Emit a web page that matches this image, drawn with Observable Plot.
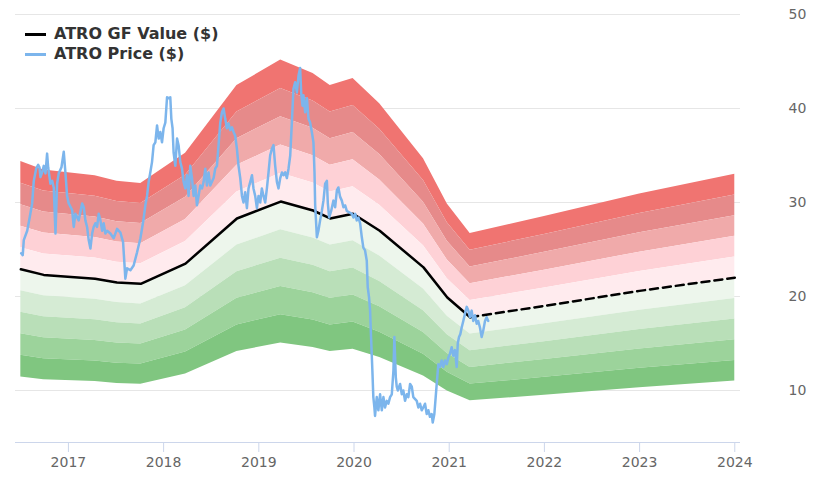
<!DOCTYPE html>
<html>
<head>
<meta charset="utf-8">
<script src="https://cdn.jsdelivr.net/npm/d3@7"></script>
<script src="https://cdn.jsdelivr.net/npm/@observablehq/plot@0.6"></script>
<style>
  html, body { margin: 0; padding: 0; background: #fff; }
  #wrap { position: relative; width: 820px; height: 492px; font-family: "DejaVu Sans", sans-serif; }
  #legend { position: absolute; left: 25px; top: 24px; font-weight: bold; font-size: 16px; color: #333; line-height: 20px; }
  #legend .row { display: flex; align-items: center; height: 20px; }
  #legend .sw { width: 21px; height: 0; border-top: 3px solid; margin-right: 8px; }
</style>
</head>
<body>
<div id="wrap">
  <div id="chart"></div>
  <div id="legend"></div>
</div>
<script>
// ---- data ----
const seriesNames = ["ATRO GF Value ($)", "ATRO Price ($)"];
const seriesColors = ["#000000", "#7cb5ec"];

const gfYears  = [2016.50, 2016.74, 2017.28, 2017.51, 2017.76, 2018.23, 2018.77, 2019.23, 2019.57, 2019.75, 2019.99, 2020.27, 2020.73, 2020.98, 2021.22];
const gfValues = [22.9, 22.3, 21.9, 21.5, 21.35, 23.5, 28.3, 30.1, 29.15, 28.3, 28.8, 27.0, 23.1, 19.9, 17.8];

const projYears  = [2021.22, 2022.0, 2023.0, 2024.0];
const projValues = [17.8, 19.0, 20.6, 22.0];

const bandLow  = [1.4, 1.3, 1.2, 1.1, 1.0, 0.9, 0.8, 0.7, 0.6, 0.5];
const bandHigh = [1.5, 1.4, 1.3, 1.2, 1.1, 1.0, 0.9, 0.8, 0.7, 0.6];
const bandColors = ["#f07471", "#e68a8a", "#f0aaaa", "#fed1d6", "#ffebee",
                    "#edf6ec", "#d5ebd4", "#b9dfb8", "#9cd39b", "#80c680"];

const price = [[2016.504,24.6],[2016.520,24.4],[2016.531,26.0],[2016.567,27.0],[2016.591,28.3],[2016.619,29.9],[2016.636,32.3],[2016.661,33.6],[2016.682,34.0],[2016.696,33.75],[2016.706,32.7],[2016.724,33.2],[2016.741,33.9],[2016.759,33.1],[2016.776,35.2],[2016.787,33.75],[2016.811,32.0],[2016.829,32.3],[2016.846,31.6],[2016.864,26.7],[2016.881,32.0],[2016.898,33.1],[2016.927,33.75],[2016.951,35.4],[2016.969,33.1],[2016.986,30.7],[2017.003,29.9],[2017.039,29.2],[2017.056,27.4],[2017.073,28.8],[2017.108,28.1],[2017.144,29.9],[2017.161,29.5],[2017.178,28.1],[2017.196,27.4],[2017.213,26.0],[2017.231,25.1],[2017.249,26.7],[2017.265,27.4],[2017.283,27.8],[2017.301,27.4],[2017.318,28.8],[2017.336,28.1],[2017.354,27.0],[2017.370,27.8],[2017.388,26.7],[2017.406,27.0],[2017.441,26.7],[2017.475,26.2],[2017.511,27.2],[2017.546,26.8],[2017.574,25.8],[2017.598,21.9],[2017.616,23.0],[2017.651,22.8],[2017.685,23.3],[2017.721,24.7],[2017.756,26.2],[2017.773,27.2],[2017.790,28.3],[2017.808,29.7],[2017.826,30.7],[2017.843,32.2],[2017.860,33.2],[2017.878,34.3],[2017.895,36.1],[2017.913,36.4],[2017.931,38.2],[2017.948,36.8],[2017.965,37.5],[2017.983,36.4],[2018.000,37.9],[2018.018,38.5],[2018.036,41.2],[2018.052,41.1],[2018.070,41.2],[2018.081,38.9],[2018.094,37.9],[2018.105,35.3],[2018.123,33.9],[2018.141,36.8],[2018.157,36.1],[2018.175,34.3],[2018.193,33.6],[2018.210,32.2],[2018.228,31.5],[2018.246,32.9],[2018.262,30.7],[2018.280,33.9],[2018.298,32.6],[2018.315,30.7],[2018.333,31.8],[2018.350,29.7],[2018.367,30.7],[2018.385,31.8],[2018.403,31.5],[2018.420,32.2],[2018.438,33.6],[2018.455,31.8],[2018.472,33.2],[2018.490,31.8],[2018.525,32.6],[2018.542,33.6],[2018.560,33.9],[2018.577,36.1],[2018.595,38.5],[2018.613,39.6],[2018.630,40.0],[2018.647,38.9],[2018.665,37.9],[2018.682,38.4],[2018.700,37.7],[2018.718,38.0],[2018.735,37.5],[2018.752,37.1],[2018.770,35.7],[2018.787,33.9],[2018.805,32.6],[2018.823,30.7],[2018.839,30.0],[2018.857,31.1],[2018.875,29.4],[2018.892,31.5],[2018.910,32.2],[2018.928,32.9],[2018.944,31.5],[2018.962,30.7],[2018.980,29.4],[2018.997,30.7],[2019.015,30.0],[2019.032,31.5],[2019.049,30.7],[2019.067,30.0],[2019.085,31.5],[2019.102,33.2],[2019.119,35.0],[2019.137,35.7],[2019.154,36.1],[2019.172,33.9],[2019.190,32.2],[2019.207,31.5],[2019.225,32.6],[2019.243,33.2],[2019.259,32.9],[2019.277,33.2],[2019.295,32.6],[2019.312,33.6],[2019.330,35.0],[2019.347,38.5],[2019.364,42.1],[2019.382,42.8],[2019.400,41.7],[2019.417,43.5],[2019.434,44.3],[2019.445,41.7],[2019.459,40.3],[2019.469,41.4],[2019.487,39.6],[2019.505,41.1],[2019.522,38.9],[2019.539,38.5],[2019.557,37.5],[2019.574,36.4],[2019.585,33.2],[2019.592,29.7],[2019.610,26.3],[2019.626,27.0],[2019.644,28.1],[2019.662,29.1],[2019.679,30.2],[2019.697,32.0],[2019.715,32.3],[2019.725,29.9],[2019.739,28.4],[2019.760,29.1],[2019.784,30.2],[2019.802,29.5],[2019.820,31.3],[2019.836,31.6],[2019.854,30.6],[2019.872,30.2],[2019.889,29.5],[2019.907,29.7],[2019.924,29.1],[2019.941,29.0],[2019.977,28.8],[2019.994,28.4],[2020.012,28.8],[2020.029,28.1],[2020.046,28.4],[2020.064,27.8],[2020.082,26.3],[2020.098,25.2],[2020.116,24.9],[2020.134,23.8],[2020.144,21.0],[2020.158,19.9],[2020.169,18.5],[2020.179,15.7],[2020.193,12.1],[2020.203,9.3],[2020.214,8.2],[2020.221,7.3],[2020.239,9.3],[2020.256,7.9],[2020.274,9.6],[2020.292,7.9],[2020.309,9.3],[2020.326,8.2],[2020.344,8.9],[2020.361,8.6],[2020.379,9.3],[2020.397,9.6],[2020.414,12.1],[2020.424,15.7],[2020.439,11.4],[2020.449,10.4],[2020.460,10.0],[2020.484,10.7],[2020.502,9.6],[2020.518,10.0],[2020.536,8.9],[2020.554,9.6],[2020.571,9.3],[2020.589,10.7],[2020.607,10.4],[2020.623,9.3],[2020.659,8.9],[2020.676,8.2],[2020.694,8.6],[2020.711,7.9],[2020.728,8.2],[2020.746,8.6],[2020.764,7.5],[2020.781,7.9],[2020.798,7.2],[2020.816,7.5],[2020.827,6.6],[2020.844,7.5],[2020.858,9.3],[2020.872,11.1],[2020.886,12.8],[2020.904,12.5],[2020.921,13.2],[2020.938,12.5],[2020.956,13.2],[2020.974,12.8],[2020.991,13.5],[2021.008,13.9],[2021.026,14.6],[2021.043,13.7],[2021.061,14.3],[2021.079,12.5],[2021.090,15.0],[2021.103,15.7],[2021.117,16.0],[2021.131,16.7],[2021.148,17.4],[2021.166,18.2],[2021.184,18.9],[2021.201,18.5],[2021.218,17.8],[2021.236,18.5],[2021.253,17.4],[2021.271,18.0],[2021.289,17.1],[2021.305,17.4],[2021.323,16.7],[2021.341,15.7],[2021.358,16.4],[2021.376,17.4],[2021.393,17.8],[2021.410,17.4]];

const xTicks = [2017, 2018, 2019, 2020, 2021, 2022, 2023, 2024];
const yTicks = [10, 20, 30, 40, 50];
const xDomain = [2016.444, 2024.06];
const yDomain = [4.47, 50];

// ---- build tables ----
const gf = gfYears.map((t, i) => ({t, v: gfValues[i]}));
const proj = projYears.map((t, i) => ({t, v: projValues[i]}));
const bandData = gf.concat(proj.slice(1));
const priceData = price.map(([t, v]) => ({t, v}));

const bandMarks = bandLow.map((lo, i) =>
  Plot.areaY(bandData, {x: "t", y1: d => d.v * lo, y2: d => d.v * bandHigh[i], fill: bandColors[i], fillOpacity: 1})
);

const chart = Plot.plot({
  width: 820,
  height: 492,
  marginTop: 14,
  marginBottom: 50,
  marginLeft: 15,
  marginRight: 80,
  x: {type: "linear", domain: xDomain},
  y: {type: "linear", domain: yDomain},
  style: {fontFamily: "DejaVu Sans, sans-serif", fontSize: "14px", background: "#fff"},
  marks: [
    Plot.gridY(yTicks, {stroke: "#e6e6e6", strokeOpacity: 1}),
    ...bandMarks,
    Plot.ruleY([yDomain[0]], {stroke: "#ccd6eb", strokeWidth: 1}),
    Plot.axisX(xTicks, {anchor: "bottom", tickSize: 10, tickPadding: 5, stroke: "#ccd6eb", fill: "#666", fontSize: 14, tickFormat: d => String(d), label: null}),
    Plot.axisY(yTicks, {anchor: "right", tickSize: 0, tickPadding: 48, fill: "#666", fontSize: 14, label: null}),
    Plot.line(gf, {x: "t", y: "v", stroke: seriesColors[0], strokeWidth: 2.5}),
    Plot.line(proj, {x: "t", y: "v", stroke: seriesColors[0], strokeWidth: 2.5, strokeDasharray: "8,5"}),
    Plot.line(priceData, {x: "t", y: "v", stroke: seriesColors[1], strokeWidth: 2.5, strokeLinejoin: "round"})
  ]
});
document.getElementById("chart").appendChild(chart);

const legend = document.getElementById("legend");
seriesNames.forEach((name, i) => {
  const row = document.createElement("div");
  row.className = "row";
  const sw = document.createElement("span");
  sw.className = "sw";
  sw.style.borderTopColor = seriesColors[i];
  const tx = document.createElement("span");
  tx.textContent = name;
  row.appendChild(sw);
  row.appendChild(tx);
  legend.appendChild(row);
});
</script>
</body>
</html>
